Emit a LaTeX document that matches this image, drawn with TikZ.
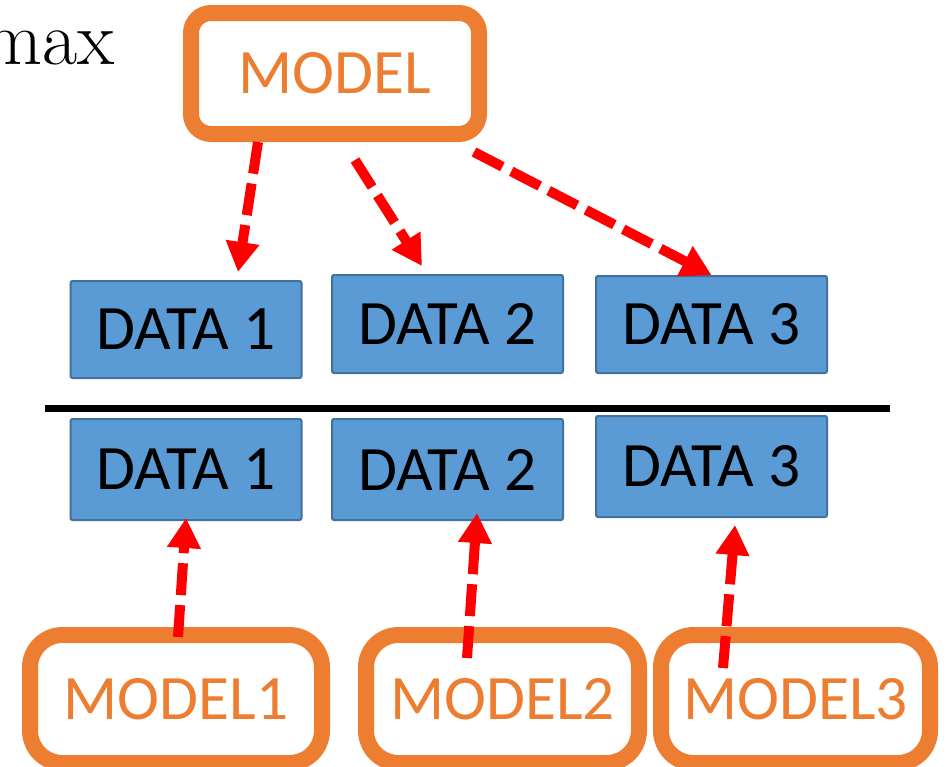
\documentclass[tikz,border=0pt]{standalone}
\usepackage{fontspec}
\newfontfamily\calibri{Carlito}
\usetikzlibrary{arrows.meta}
\definecolor{boxorange}{HTML}{ED7D31}
\definecolor{datablue}{HTML}{5B9BD5}
\definecolor{databorder}{HTML}{41719C}
\definecolor{arrowred}{HTML}{FF0000}
\begin{document}
\begin{tikzpicture}[
        modelbox/.style={
            rectangle,
            draw=boxorange,
            line width=0.32cm,
            rounded corners=0.4cm,
            text=boxorange,
            align=center,
            inner sep=0pt,
            font=\calibri\fontsize{36}{43}\selectfont
        },
        subbox/.style={
            modelbox,
            rounded corners=0.65cm,
            minimum height=2.56cm
        },
        databox/.style={
            rectangle,
            draw=databorder,
            fill=datablue,
            line width=0.04cm,
            rounded corners=0.04cm,
            minimum width=4.62cm,
            inner sep=0pt,
            font=\calibri\fontsize{36}{43}\selectfont
        },
        arrow/.style={
            -{Triangle[width=0.64cm,length=0.6cm]},
            draw=arrowred,
            line width=0.2cm,
            dash pattern=on 0.64cm off 0.2cm
        }
    ]
        \useasboundingbox (0,0) rectangle (18.92,-15.32);

        \node[anchor=base east, inner sep=0pt, font=\fontsize{43.5}{50}\selectfont] (maxop) at (2.30,-1.28) {max};

        \node[modelbox, minimum width=5.76cm, minimum height=2.42cm] (model) at (6.70,-1.47) {MODEL};

        \node[databox, minimum height=1.94cm] (d1) at (3.72,-6.59) {DATA 1};
        \node[databox, minimum height=1.96cm] (d2) at (8.95,-6.48) {DATA 2};
        \node[databox, minimum height=1.94cm] (d3) at (14.23,-6.49) {DATA 3};

        \draw[line width=0.14cm] (0.9,-8.16) -- (17.8,-8.16);

        \node[databox, minimum height=2.02cm] (e1) at (3.72,-9.39) {DATA 1};
        \node[databox, minimum height=2.02cm] (e2) at (8.95,-9.39) {DATA 2};
        \node[databox, minimum height=2.02cm] (e3) at (14.23,-9.33) {DATA 3};

        \node[subbox, minimum width=5.84cm] (m1) at (3.52,-13.98) {MODEL1};
        \node[subbox, minimum width=5.46cm] (m2) at (10.05,-13.98) {MODEL2};
        \node[subbox, minimum width=5.38cm] (m3) at (15.91,-13.98) {MODEL3};

        \draw[arrow] ([xshift=-1.54cm]model.south) -- ([xshift=1.04cm,yshift=0.16cm]d1.north);
        \draw[arrow] ([xshift=0.40cm,yshift=-0.36cm]model.south) -- ([xshift=-0.51cm,yshift=0.16cm]d2.north);
        \draw[arrow] ([xshift=2.78cm,yshift=-0.2cm]model.south) -- (d3.north);

        \draw[arrow] ([xshift=0.04cm,yshift=-0.2cm]m1.north) -- ([yshift=0.06cm]e1.south);
        \draw[arrow] ([xshift=-0.71cm,yshift=-0.62cm]m2.north) -- ([xshift=0.59cm,yshift=0.16cm]e2.south);
        \draw[arrow] ([xshift=-1.45cm,yshift=-0.82cm]m3.north) -- ([xshift=0.47cm,yshift=-0.14cm]e3.south);

    \end{tikzpicture}
\end{document}
